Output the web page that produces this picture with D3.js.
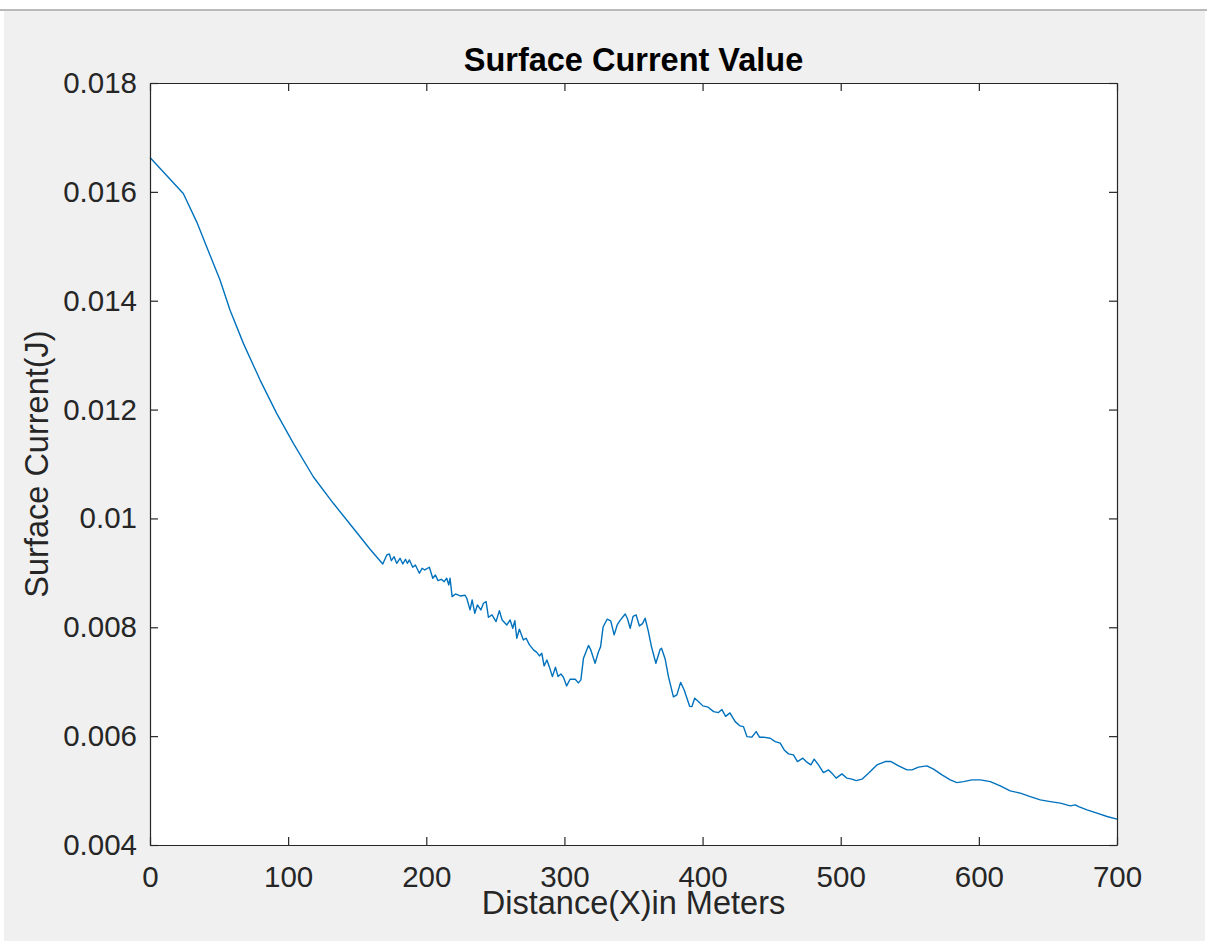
<!DOCTYPE html>
<html>
<head>
<meta charset="utf-8">
<script src="https://cdn.jsdelivr.net/npm/d3@7"></script>
<style>
  body { margin: 0; background: #ffffff; }
  svg { display: block; font-family: "Liberation Sans", Arial, sans-serif; }
</style>
</head>
<body>
<div id="chart"></div>
<script>
// distance along the surface (m)
const distance = [
  0, 24.1, 33.8, 43.4, 50.7, 57.9, 67.6, 79.7, 91.7, 103.8, 118.2, 132.7, 147.2, 159.3,
  168.5, 171.4, 173.3, 174.7, 176.7, 178.6, 181.0, 183.0, 184.9, 186.3, 187.8, 190.2, 192.1,
  195.0, 197.0, 198.9, 202.2, 204.7, 206.6, 208.5, 210.9, 212.9, 214.8, 216.3, 217.2, 218.7,
  221.1, 224.5, 228.1, 229.3, 231.7, 233.2, 235.1, 237.0, 239.5, 241.4, 243.3, 245.0, 247.6,
  250.5, 252.9, 254.9, 258.3, 260.7, 262.6, 264.1, 265.5, 267.4, 270.3, 272.3, 274.7, 277.6,
  280.0, 281.9, 283.6, 285.3, 287.3, 289.1, 291.3, 293.5, 295.4, 297.4, 299.3, 301.6, 304.1,
  307.8, 310.1, 311.9, 313.8, 317.4, 319.1, 322.2, 324.6, 326.2, 328.0, 330.9, 333.5, 336.0,
  338.2, 340.3, 344.0, 345.6, 347.6, 349.7, 351.9, 354.3, 356.5, 358.4, 360.6, 363.0, 366.2,
  369.3, 370.3, 372.9, 375.3, 378.9, 381.4, 384.1, 386.7, 390.7, 392.3, 394.3, 397.0, 400.2,
  404.1, 408.0, 411.5, 414.0, 416.7, 419.8, 423.6, 427.2, 429.6, 432.1, 435.7, 438.8, 441.2,
  444.1, 449.0, 452.6, 456.2, 459.1, 462.2, 465.8, 468.7, 472.6, 475.0, 478.4, 480.8, 483.9,
  487.5, 491.2, 493.6, 496.7, 500.9, 504.5, 508.1, 511.2, 515.4, 520.1, 526.2, 532.2, 536.4,
  541.9, 548.0, 551.6, 556.3, 562.4, 567.2, 573.3, 579.3, 584.1, 588.9, 595.0, 601.0, 608.3,
  615.5, 622.7, 630.0, 637.2, 644.5, 651.7, 659.0, 666.2, 669.8, 672.2, 678.3, 685.5, 692.8, 700
];

// surface current J
const current = [
  0.016632, 0.015971, 0.015449, 0.014838, 0.014379, 0.013828, 0.013216, 0.012542, 0.011931,
  0.011380, 0.010766, 0.010278, 0.009819, 0.009433, 0.009163, 0.009328, 0.009347, 0.009224,
  0.009297, 0.009176, 0.009268, 0.009163, 0.009250, 0.009176, 0.009237, 0.009103, 0.009145,
  0.008993, 0.009084, 0.009053, 0.009103, 0.008901, 0.008961, 0.008857, 0.008882, 0.008838,
  0.008901, 0.008778, 0.008901, 0.008563, 0.008612, 0.008576, 0.008589, 0.008533, 0.008319,
  0.008502, 0.008258, 0.008410, 0.008319, 0.008442, 0.008471, 0.008184, 0.008227, 0.008104,
  0.008306, 0.008135, 0.008043, 0.008135, 0.007982, 0.008122, 0.007799, 0.007964, 0.007768,
  0.007799, 0.007676, 0.007584, 0.007538, 0.007474, 0.007523, 0.007290, 0.007400, 0.007272,
  0.007094, 0.007266, 0.007094, 0.007143, 0.007083, 0.006923, 0.007046, 0.007046, 0.006978,
  0.007033, 0.007432, 0.007667, 0.007584, 0.007340, 0.007547, 0.007645, 0.008006, 0.008148,
  0.008117, 0.007860, 0.008043, 0.008126, 0.008245, 0.008162, 0.007982, 0.008199, 0.008227,
  0.008025, 0.008067, 0.008166, 0.007942, 0.007645, 0.007340, 0.007597, 0.007615, 0.007419,
  0.007094, 0.006721, 0.006758, 0.006987, 0.006849, 0.006546, 0.006543, 0.006697, 0.006638,
  0.006556, 0.006532, 0.006451, 0.006433, 0.006488, 0.006363, 0.006427, 0.006267, 0.006188,
  0.006175, 0.005992, 0.005981, 0.006084, 0.005981, 0.005981, 0.005962, 0.005900, 0.005871,
  0.005747, 0.005674, 0.005656, 0.005533, 0.005595, 0.005533, 0.005472, 0.005577, 0.005472,
  0.005331, 0.005380, 0.005320, 0.005228, 0.005307, 0.005228, 0.005210, 0.005184, 0.005210,
  0.005320, 0.005472, 0.005533, 0.005533, 0.005454, 0.005380, 0.005380, 0.005430, 0.005454,
  0.005393, 0.005288, 0.005197, 0.005147, 0.005165, 0.005197, 0.005197, 0.005165, 0.005086,
  0.004995, 0.004952, 0.004890, 0.004829, 0.004798, 0.004769, 0.004719, 0.004738, 0.004706,
  0.004646, 0.004585, 0.004523, 0.004475
];

const xTicks = [0, 100, 200, 300, 400, 500, 600, 700];
const yTicks = [0.004, 0.006, 0.008, 0.01, 0.012, 0.014, 0.016, 0.018];
const yTickLabels = ['0.004', '0.006', '0.008', '0.01', '0.012', '0.014', '0.016', '0.018'];

const width = 1207;
const height = 942;
const margin = { top: 83, right: 90, bottom: 97, left: 150 };
const axisColor = '#262626';
const tickFont = '29.5px';
const labelFont = '32.5px';

const svg = d3.select('#chart')
  .append('svg')
  .attr('width', width)
  .attr('height', height);

// figure window background
svg.append('line')
  .attr('x1', 0).attr('x2', width)
  .attr('y1', 10).attr('y2', 10)
  .attr('stroke', '#b9b9b9')
  .attr('stroke-width', 2);
svg.append('rect')
  .attr('x', 4).attr('y', 11)
  .attr('width', width - 6).attr('height', height - 12)
  .attr('fill', '#f0f0f0');

const xScale = d3.scaleLinear()
  .domain([0, 700])
  .range([margin.left, width - margin.right]);
const yScale = d3.scaleLinear()
  .domain([0.004, 0.018])
  .range([height - margin.bottom, margin.top]);

// plot area
svg.append('rect')
  .attr('x', xScale(0)).attr('y', yScale(0.018))
  .attr('width', xScale(700) - xScale(0))
  .attr('height', yScale(0.004) - yScale(0.018))
  .attr('fill', '#ffffff');

// the curve
const points = distance.map((d, i) => [d, current[i]]);
const line = d3.line()
  .x((d) => xScale(d[0]))
  .y((d) => yScale(d[1]));

svg.append('path')
  .datum(points)
  .attr('d', line)
  .attr('fill', 'none')
  .attr('stroke', '#0072bd')
  .attr('stroke-width', 1.4)
  .attr('stroke-linejoin', 'round');

// axes, ticks pointing inwards on all four sides
const tickLen = 8;
function styleAxis(g) {
  g.selectAll('.domain').attr('stroke', axisColor).attr('stroke-width', 1.2);
  g.selectAll('.tick line').attr('stroke', axisColor).attr('stroke-width', 1.2);
  g.selectAll('.tick text')
    .attr('fill', axisColor)
    .style('font-size', tickFont)
    .style('font-family', '"Liberation Sans", Arial, sans-serif');
}

svg.append('g')
  .attr('transform', `translate(0, ${yScale(0.004)})`)
  .call(d3.axisBottom(xScale).tickValues(xTicks).tickSizeInner(-tickLen).tickSizeOuter(0).tickPadding(21))
  .call(styleAxis);

svg.append('g')
  .attr('transform', `translate(0, ${yScale(0.018)})`)
  .call(d3.axisTop(xScale).tickValues(xTicks).tickSizeInner(-tickLen).tickSizeOuter(0).tickFormat(''))
  .call(styleAxis);

svg.append('g')
  .attr('transform', `translate(${xScale(0)}, 0)`)
  .call(d3.axisLeft(yScale).tickValues(yTicks).tickSizeInner(-tickLen).tickSizeOuter(0)
    .tickPadding(13).tickFormat((d, i) => yTickLabels[i]))
  .call(styleAxis);

svg.append('g')
  .attr('transform', `translate(${xScale(700)}, 0)`)
  .call(d3.axisRight(yScale).tickValues(yTicks).tickSizeInner(-tickLen).tickSizeOuter(0).tickFormat(''))
  .call(styleAxis);

// titles
svg.append('text')
  .attr('x', (xScale(0) + xScale(700)) / 2)
  .attr('y', 71)
  .attr('text-anchor', 'middle')
  .attr('fill', '#000000')
  .style('font-size', labelFont)
  .style('font-weight', 'bold')
  .text('Surface Current Value');

svg.append('text')
  .attr('x', (xScale(0) + xScale(700)) / 2)
  .attr('y', 914)
  .attr('text-anchor', 'middle')
  .attr('fill', axisColor)
  .style('font-size', labelFont)
  .text('Distance(X)in Meters');

svg.append('text')
  .attr('transform', `translate(48, ${(yScale(0.004) + yScale(0.018)) / 2}) rotate(-90)`)
  .attr('text-anchor', 'middle')
  .attr('fill', axisColor)
  .style('font-size', labelFont)
  .text('Surface Current(J)');
</script>
</body>
</html>
